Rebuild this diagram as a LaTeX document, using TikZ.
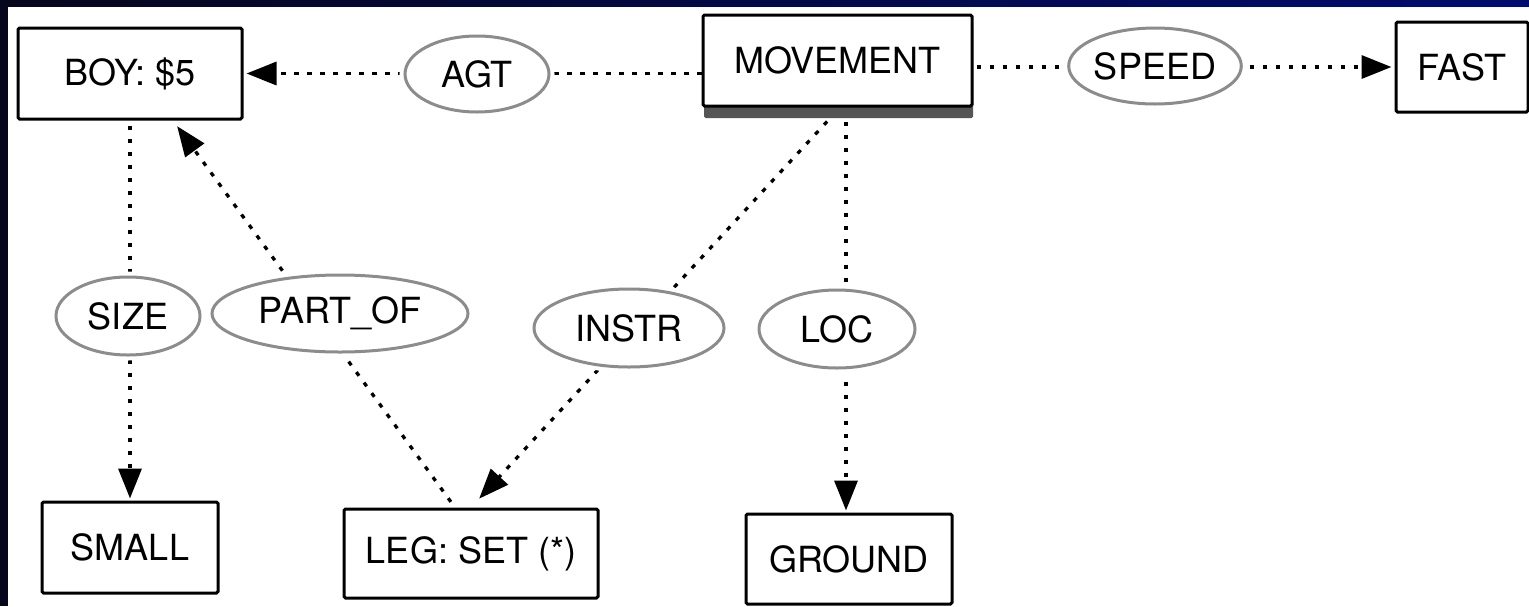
\documentclass[tikz,border=0pt]{standalone}
\usepackage{fontspec}
\setmainfont{TeX Gyre Heros}
\usetikzlibrary{arrows.meta,shapes.geometric,shadows,calc}
\definecolor{relgray}{RGB}{140,140,140}
\definecolor{navyL}{RGB}{6,6,28}
\definecolor{navyR}{RGB}{0,12,110}
\begin{document}
\begin{tikzpicture}[x=1pt,y=-1pt,
  concept/.style={draw, line width=3pt, rounded corners=1.5pt, fill=white, inner sep=0pt, font=\fontsize{36}{43}\selectfont},
  rel/.style={ellipse, draw=relgray, line width=3pt, fill=white, inner sep=0pt, font=\fontsize{36}{43}\selectfont, preaction={draw=white, fill=white, line width=11pt}},
  conn/.style={line width=3.3pt, dash pattern=on 4.5pt off 8.5pt},
  tipped/.style={-{Triangle[length=30pt,width=23pt]}}]
% background
\useasboundingbox (0,0) rectangle (1529,606);
\fill[white] (0,0) rectangle (1529,606);
\shade[left color=navyL, right color=navyR] (0,0) rectangle (1529,6);
\fill[navyL] (0,0) rectangle (8,606);
% concept boxes
\node[concept, minimum width=224pt, minimum height=91pt] (BOY) at (130,73.5) {BOY: \$5};
\node[concept, minimum width=269pt, minimum height=91pt, drop shadow={shadow xshift=1pt, shadow yshift=-12pt, fill=black!70, opacity=0.95}] (MOV) at (837.5,60.5) {MOVEMENT};
\node[concept, minimum width=132pt, minimum height=90pt] (FAST) at (1462,67) {FAST};
\node[concept, minimum width=176pt, minimum height=91pt] (SMALL) at (130,547.5) {SMALL};
\node[concept, minimum width=254pt, minimum height=89pt] (LEG) at (471,553.5) {LEG: SET (*)};
\node[concept, minimum width=206pt, minimum height=90pt] (GROUND) at (849,559) {GROUND};
% connectors
\draw[conn, tipped, shorten >=3pt] (MOV.west |- BOY.east) -- (BOY.east);
\draw[conn, tipped, shorten <=3pt, shorten >=3pt] (MOV.east |- FAST.west) -- (FAST.west);
\draw[conn, tipped, shorten <=5pt, shorten >=2pt] (BOY.south) -- (SMALL.north);
\draw[conn, tipped, shorten <=7pt, shorten >=7pt] ($(LEG.north)+(-16,0)$) -- ($(BOY.south)+(43,0)$);
\draw[conn, tipped, shorten <=19pt, shorten >=12pt] ($(MOV.south)+(2.5,0)$) -- (LEG.north);
\draw[conn, tipped, shorten <=14pt, shorten >=2pt] ($(MOV.south)+(8.5,0)$) -- ($(GROUND.north)+(-3,0)$);
% relation ellipses
\node[rel, minimum width=144pt, minimum height=76pt] (AGT) at (477,74) {AGT};
\node[rel, minimum width=166pt, minimum height=76pt] (SPEED) at (1155,66) {SPEED};
\node[rel, minimum width=144pt, minimum height=78pt] (SIZE) at (128,316) {SIZE};
\node[rel, minimum width=256pt, minimum height=77pt] (PART) at (340,313.5) {PART\_OF};
\node[rel, minimum width=190pt, minimum height=78pt] (INSTR) at (629,328) {INSTR};
\node[rel, minimum width=156pt, minimum height=78pt] (LOC) at (837,329) {LOC};
\end{tikzpicture}
\end{document}
